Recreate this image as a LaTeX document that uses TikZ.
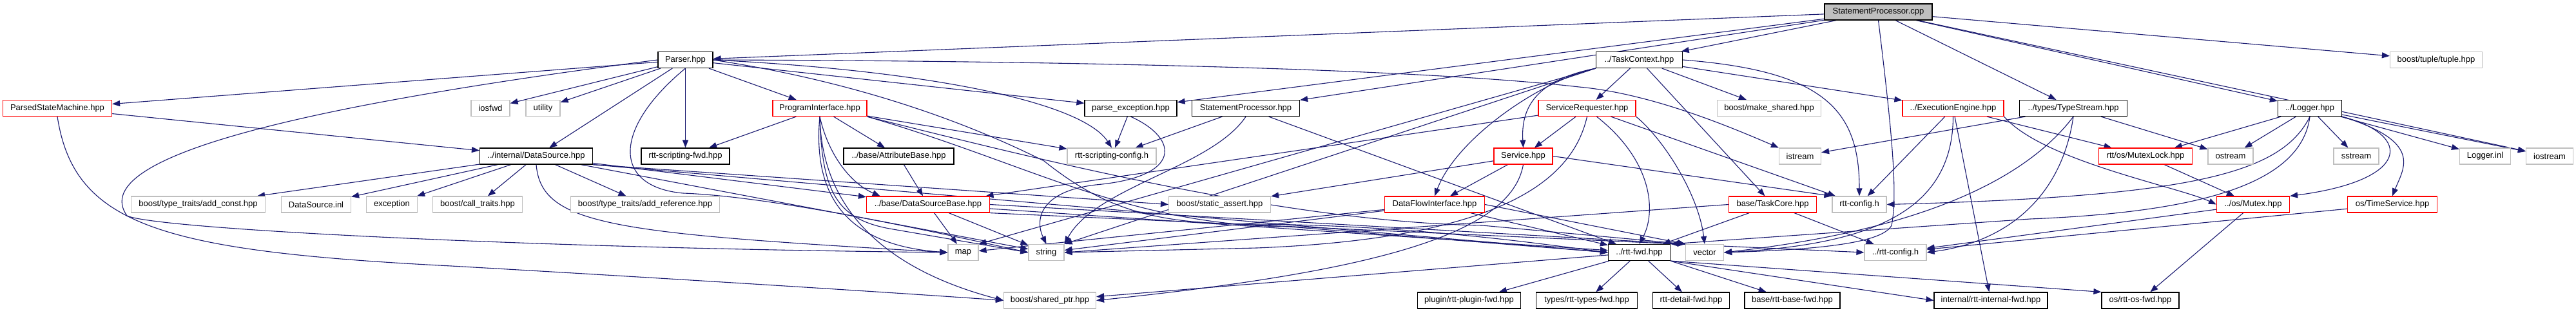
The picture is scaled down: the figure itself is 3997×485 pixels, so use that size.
\documentclass[tikz,border=0pt]{standalone}
\usepackage{fontspec}
\setmainfont{Liberation Sans}
\usetikzlibrary{arrows.meta,backgrounds}
\definecolor{edgec}{HTML}{191970}
\definecolor{greyb}{HTML}{BFBFBF}
\begin{document}
\begin{tikzpicture}[x=1pt,y=-1pt,
  nb/.style={draw, rectangle, minimum height=25pt, inner sep=0pt, line width=1.2pt, fill=white, font=\fontsize{13}{15}\selectfont},
  bk/.style={nb, draw=black},
  rd/.style={nb, draw=red},
  gy/.style={nb, draw=greyb},
  lnk/.style={draw=edgec, line width=1.1pt, -{Triangle[length=12pt,width=9pt]}}]
\useasboundingbox (0,0) rectangle (3997,485);
% row 0
\node[bk, fill=greyb, minimum width=167pt] (root) at (2914.5,18.5) {StatementProcessor.cpp};
% row 1
\node[bk, minimum width=85pt] (parser) at (1063.5,93) {Parser.hpp};
\node[bk, minimum width=134pt] (taskctx) at (2543.5,93) {../TaskContext.hpp};
\node[gy, minimum width=143pt] (tuple) at (3780,93) {boost/tuple/tuple.hpp};
% row 2
\node[rd, minimum width=169pt] (psm) at (89,168) {ParsedStateMachine.hpp};
\node[gy, minimum width=60pt] (iosfwd) at (761,168) {iosfwd};
\node[gy, minimum width=53pt] (utility) at (842.5,168) {utility};
\node[rd, minimum width=146pt] (progif) at (1272,168) {ProgramInterface.hpp};
\node[bk, minimum width=143pt] (pexc) at (1754.5,168) {parse\_exception.hpp};
\node[bk, minimum width=167pt] (sphpp) at (1933,168) {StatementProcessor.hpp};
\node[rd, minimum width=151pt] (sr) at (2462.5,168) {ServiceRequester.hpp};
\node[gy, minimum width=161pt] (makeshared) at (2745,168) {boost/make\_shared.hpp};
\node[rd, minimum width=157pt] (ee) at (3030.5,168) {../ExecutionEngine.hpp};
\node[bk, minimum width=167pt] (ts) at (3217,168) {../types/TypeStream.hpp};
\node[bk, minimum width=99pt] (logger) at (3584,168) {../Logger.hpp};
% row 3
\node[bk, minimum width=175pt] (dsrc) at (832,242.5) {../internal/DataSource.hpp};
\node[bk, minimum width=137pt] (sfwd) at (1063.5,242.5) {rtt-scripting-fwd.hpp};
\node[bk, minimum width=171pt] (attrbase) at (1394.5,242.5) {../base/AttributeBase.hpp};
\node[gy, minimum width=138pt] (sconfig) at (1725,242.5) {rtt-scripting-config.h};
\node[rd, minimum width=91pt] (service) at (2363.5,242.5) {Service.hpp};
\node[gy, minimum width=65pt] (istream) at (2793,242.5) {istream};
\node[rd, minimum width=145pt] (mutexlock) at (3329,242.5) {rtt/os/MutexLock.hpp};
\node[gy, minimum width=70pt] (ostream) at (3461,242.5) {ostream};
\node[gy, minimum width=70pt] (sstream) at (3656,242.5) {sstream};
\node[gy, minimum width=79pt] (logginl) at (3856,242.5) {Logger.inl};
\node[gy, minimum width=73pt] (iostream) at (3956,242.5) {iostream};
% row 4
\node[gy, minimum width=208pt] (addconst) at (307.5,317.5) {boost/type\_traits/add\_const.hpp};
\node[gy, minimum width=108pt] (dsinl) at (490.5,317.5) {DataSource.inl};
\node[gy, minimum width=79pt] (exception) at (608,317.5) {exception};
\node[gy, minimum width=139pt] (calltraits) at (741,317.5) {boost/call\_traits.hpp};
\node[gy, minimum width=231pt] (addref) at (1001,317.5) {boost/type\_traits/add\_reference.hpp};
\node[rd, minimum width=191pt] (dsbase) at (1440,317.5) {../base/DataSourceBase.hpp};
\node[gy, minimum width=158pt] (staticassert) at (1892.5,317.5) {boost/static\_assert.hpp};
\node[rd, minimum width=155pt] (dfi) at (2226,317.5) {DataFlowInterface.hpp};
\node[rd, minimum width=136pt] (taskcore) at (2750.5,317.5) {base/TaskCore.hpp};
\node[gy, minimum width=84pt] (rttconfig) at (2885,317.5) {rtt-config.h};
\node[rd, minimum width=113pt] (mutex) at (3496,317.5) {../os/Mutex.hpp};
\node[rd, minimum width=139pt] (timeservice) at (3712,317.5) {os/TimeService.hpp};
% row 5
\node[gy, minimum width=47pt] (map) at (1494.5,392) {map};
\node[gy, minimum width=55pt] (string) at (1623.5,392) {string};
\node[bk, minimum width=96pt] (rttfwd) at (2543.5,392) {../rtt-fwd.hpp};
\node[gy, minimum width=59pt] (vector) at (2645,392) {vector};
\node[gy, minimum width=96pt] (rttconfig2) at (2941,392) {../rtt-config.h};
% row 6
\node[gy, minimum width=143pt] (shared) at (1629,466.5) {boost/shared\_ptr.hpp};
\node[bk, minimum width=160pt] (pluginfwd) at (2279.5,466.5) {plugin/rtt-plugin-fwd.hpp};
\node[bk, minimum width=157pt] (typesfwd) at (2462,466.5) {types/rtt-types-fwd.hpp};
\node[bk, minimum width=119pt] (detailfwd) at (2624,466.5) {rtt-detail-fwd.hpp};
\node[bk, minimum width=148pt] (basefwd) at (2781,466.5) {base/rtt-base-fwd.hpp};
\node[bk, minimum width=176pt] (internalfwd) at (3089,466.5) {internal/rtt-internal-fwd.hpp};
\node[bk, minimum width=120pt] (osfwd) at (3321,466.5) {os/rtt-os-fwd.hpp};

\begin{pgfonlayer}{background}
\fill[white] (0,0) rectangle (3997,485);
% root
\draw[lnk] (root) -- (parser);
\draw[lnk] (root) -- (pexc);
\draw[lnk] (root) -- (sphpp);
\draw[lnk] (root) -- (taskctx);
\draw[lnk] (root) -- (ts);
\draw[lnk] (root) -- (logger);
\draw[lnk] (root) -- (tuple);
\draw[lnk] (root) -- (iostream);
\draw[lnk] (root.south) .. controls (2935,200) and (2945,300) .. (2935,350) .. controls (2920,380) and (2800,388) .. (vector.east);
% parser
\draw[lnk] (parser) -- (psm);
\draw[lnk] (parser.west) .. controls (500,160) and (130,240) .. (197,335) .. controls (240,355) and (800,385) .. (map.west);
\draw[lnk] (parser) -- (iosfwd);
\draw[lnk] (parser) -- (utility);
\draw[lnk] (parser) -- (dsrc);
\draw[lnk] (parser) -- (sfwd);
\draw[lnk] (parser) -- (progif);
\draw[lnk] (parser.south) .. controls (950,200) and (950,290) .. (1060,300) .. controls (1200,305) and (1450,360) .. (string.west);
\draw[lnk] (parser) -- (pexc);
\draw[lnk] (parser.east) .. controls (1450,110) and (1680,160) .. (sconfig.north);
\draw[lnk] (parser.east) .. controls (1800,95) and (2250,112) .. (2450,135) .. controls (2560,145) and (2680,195) .. (istream.north west);
\draw[lnk] (parser.east) .. controls (1350,130) and (1520,200) .. (1620,250) .. controls (1720,330) and (1800,348) .. (1950,348) .. controls (2200,350) and (2400,380) .. (rttfwd.west);
% psm
\draw[lnk] (psm) -- (dsrc);
\draw[lnk] (psm.south) .. controls (115,350) and (250,390) .. (700,413) .. controls (1000,430) and (1400,455) .. (shared.west);
% dsrc
\draw[lnk] (dsrc) -- (addconst);
\draw[lnk] (dsrc) -- (dsinl);
\draw[lnk] (dsrc) -- (exception);
\draw[lnk] (dsrc) -- (calltraits);
\draw[lnk] (dsrc) -- (addref);
\draw[lnk] (dsrc) -- (dsbase);
\draw[lnk] (dsrc.south east) -- (staticassert.west);
\draw[lnk] (dsrc.south) .. controls (840,350) and (950,362) .. (map.west);
\draw[lnk] (dsrc) -- (string);
\draw[lnk] (dsrc.south east) -- (rttfwd.west);
% progif
\draw[lnk] (progif) -- (sfwd);
\draw[lnk] (progif) -- (attrbase);
\draw[lnk] (progif.south) .. controls (1285,240) and (1320,285) .. (dsbase.170);
\draw[lnk] (progif) -- (sconfig);
\draw[lnk] (progif.south) .. controls (1262,290) and (1300,380) .. (map.west);
\draw[lnk] (progif.south) .. controls (1275,330) and (1380,420) .. (shared.west);
\draw[lnk] (progif.south) .. controls (1275,300) and (1300,340) .. (1380,355) -- (string.west);
\draw[lnk] (progif.south east) .. controls (1600,255) and (1750,350) .. (2000,352) -- (rttfwd.west);
\draw[lnk] (progif.south east) .. controls (1620,250) and (2000,345) .. (2300,350) -- (vector.north west);
% attrbase
\draw[lnk] (attrbase) -- (dsbase);
% pexc
\draw[lnk] (pexc) -- (sconfig);
\draw[lnk] (pexc.south) .. controls (1830,215) and (1835,275) .. (1700,287) .. controls (1615,297) and (1605,340) .. (string.north);
% sphpp
\draw[lnk] (sphpp) -- (sconfig);
\draw[lnk] (sphpp.south) .. controls (1880,260) and (1700,290) .. (string.north east);
\draw[lnk] (sphpp) -- (rttfwd);
% dsbase
\draw[lnk] (dsbase) -- (map);
\draw[lnk] (dsbase) -- (string);
\draw[lnk] (dsbase) -- (rttfwd);
\draw[lnk] (dsbase.east) -- (vector.north west);
\draw[lnk] (dsbase.south east) -- (rttconfig2.west);
% taskctx
\draw[lnk] (taskctx) -- (sr);
\draw[lnk] (taskctx.south west) .. controls (2380,125) and (2360,170) .. (service.north);
\draw[lnk] (taskctx.south west) .. controls (2390,125) and (2260,215) .. (dfi.north);
\draw[lnk] (taskctx) -- (taskcore);
\draw[lnk] (taskctx) -- (makeshared);
\draw[lnk] (taskctx) -- (ee);
\draw[lnk] (taskctx.east) .. controls (2830,110) and (2885,170) .. (rttconfig.north);
\draw[lnk] (taskctx.south west) -- (map.north east);
\draw[lnk] (taskctx.south west) -- (string.north east);
% sr
\draw[lnk] (sr) -- (service);
\draw[lnk] ([xshift=15pt]sr.south) .. controls (2565,250) and (2570,330) .. (rttfwd.north);
\draw[lnk] (sr.south east) .. controls (2580,215) and (2635,300) .. (vector.north);
\draw[lnk] (sr.south) .. controls (2440,280) and (2330,370) .. (1950,385) -- (string.east);
\draw[lnk] (sr) -- (rttconfig);
\draw[lnk] (sr) -- (dsbase);
% service
\draw[lnk] (service) -- (dfi);
\draw[lnk] (service) -- (staticassert);
\draw[lnk] (service.south) .. controls (2345,360) and (2150,420) .. (shared.east);
\draw[lnk] (service.east) -- (rttconfig.north west);
% dfi
\draw[lnk] (dfi) -- (string);
\draw[lnk] (dfi) -- (map);
\draw[lnk] (dfi) -- (rttfwd);
\draw[lnk] (dfi.east) -- (vector.north west);
% taskcore
\draw[lnk] (taskcore.west) -- (string.east);
\draw[lnk] (taskcore) -- (rttfwd);
\draw[lnk] (taskcore) -- (rttconfig2);
% ee
\draw[lnk] (ee) -- (rttconfig);
\draw[lnk] (ee.south) .. controls (3030,330) and (2900,380) .. (vector.east);
\draw[lnk] (ee) -- (internalfwd);
\draw[lnk] (ee.south east) .. controls (3170,250) and (3380,290) .. (mutex.west);
\draw[lnk] (ee) -- (mutexlock);
% ts
\draw[lnk] (ts) -- (istream);
\draw[lnk] (ts) -- (ostream);
\draw[lnk] (ts.south) .. controls (3150,270) and (3000,355) .. (vector.east);
\draw[lnk] (ts.south) .. controls (3200,300) and (3120,375) .. (rttconfig2.east);
% logger
\draw[lnk] (logger) -- (mutexlock);
\draw[lnk] (logger) -- (ostream);
\draw[lnk] (logger) -- (sstream);
\draw[lnk] (logger) -- (logginl);
\draw[lnk] (logger) -- (iostream);
\draw[lnk] (logger.south east) .. controls (3745,210) and (3740,280) .. (mutex.north east);
\draw[lnk] (logger.south east) .. controls (3760,220) and (3730,260) .. (timeservice.north);
\draw[lnk] (logger.south) .. controls (3540,270) and (3400,305) .. (rttconfig.east);
\draw[lnk] (logger.south) .. controls (3570,290) and (3400,330) .. (3150,340) -- (rttfwd.north east);
% os
\draw[lnk] (mutexlock) -- (mutex);
\draw[lnk] (mutex) -- (osfwd);
\draw[lnk] (mutex) -- (rttconfig2);
\draw[lnk] (timeservice) -- (rttconfig2);
% rttfwd
\draw[lnk] (rttfwd) -- (pluginfwd);
\draw[lnk] (rttfwd) -- (typesfwd);
\draw[lnk] (rttfwd) -- (detailfwd);
\draw[lnk] (rttfwd.south east) -- (basefwd);
\draw[lnk] (rttfwd.south east) -- (internalfwd.west);
\draw[lnk] (rttfwd.south east) -- (osfwd.north west);
\draw[lnk] (rttfwd) -- (shared);
\end{pgfonlayer}
\end{tikzpicture}
\end{document}
